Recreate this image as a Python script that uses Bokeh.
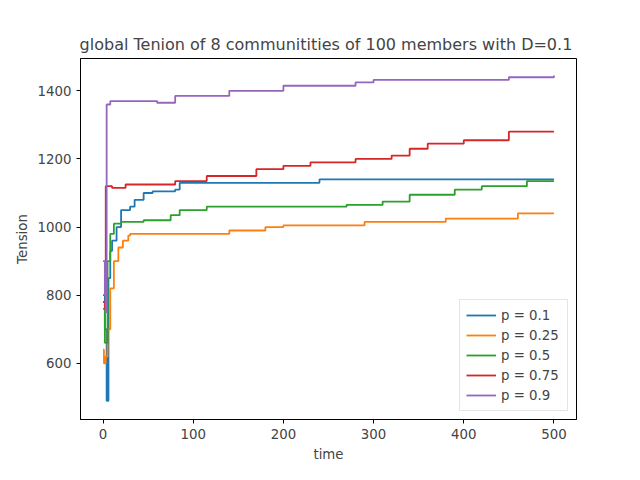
from bokeh.plotting import figure
from bokeh.models import Range1d
from bokeh.embed import file_html
from bokeh.resources import INLINE

# step breakpoints (time, tension)
labels = ["p = 0.1", "p = 0.25", "p = 0.5", "p = 0.75", "p = 0.9"]
colors = ["#1f77b4", "#ff7f0e", "#2ca02c", "#d62728", "#9467bd"]

t_01 = [0, 2, 4, 6, 8, 10, 15, 20, 30, 35, 45, 55, 80, 85, 240, 500]
v_01 = [800, 700, 490, 850, 930, 960, 1000, 1050, 1060, 1080, 1100, 1105, 1110, 1130, 1140, 1140]
t_025 = [0, 1, 3, 5, 8, 12, 17, 22, 28, 30, 140, 180, 200, 290, 380, 460, 500]
v_025 = [640, 600, 620, 700, 820, 900, 940, 960, 975, 980, 990, 1000, 1005, 1015, 1025, 1040, 1040]
t_05 = [0, 2, 5, 8, 12, 20, 45, 75, 85, 115, 270, 310, 340, 390, 420, 470, 500]
v_05 = [760, 660, 900, 980, 1010, 1015, 1020, 1035, 1050, 1060, 1065, 1075, 1095, 1110, 1120, 1135, 1135]
t_075 = [0, 2, 3, 10, 25, 80, 115, 170, 200, 230, 280, 320, 340, 360, 400, 450, 500]
v_075 = [780, 760, 1120, 1115, 1125, 1135, 1150, 1170, 1180, 1190, 1200, 1210, 1230, 1245, 1255, 1280, 1280]
t_09 = [0, 2, 3, 4, 8, 60, 80, 140, 200, 280, 300, 450, 500]
v_09 = [900, 800, 750, 1360, 1370, 1365, 1385, 1400, 1415, 1425, 1432, 1440, 1445]

series = [(t_01, v_01), (t_025, v_025), (t_05, v_05), (t_075, v_075), (t_09, v_09)]

p = figure(width=624, height=464, output_backend="svg", toolbar_location=None,
           title="global Tenion of 8 communitities of 100 members with  D=0.1",
           x_range=Range1d(-25, 525), y_range=Range1d(435, 1495),
           min_border_left=80, min_border_right=48, min_border_top=58, min_border_bottom=36)
p.title.align = "center"
p.title.text_font = "DejaVu Sans"
p.title.text_font_size = "12pt"
p.title.text_font_style = "normal"
p.grid.visible = False
p.outline_line_color = "black"
p.xaxis.axis_label = "time"
p.yaxis.axis_label = "Tension"
for ax in (p.xaxis, p.yaxis):
    ax.axis_label_text_font = "DejaVu Sans"
    ax.axis_label_text_font_style = "normal"
    ax.axis_label_text_font_size = "10pt"
    ax.major_label_text_font = "DejaVu Sans"
    ax.major_label_text_font_size = "10pt"
    ax.minor_tick_line_color = None
    ax.major_tick_in = 0
    ax.major_tick_out = 4
p.xaxis.ticker = [0, 100, 200, 300, 400, 500]
p.yaxis.ticker = [600, 800, 1000, 1200, 1400]

for (t, v), c, lab in zip(series, colors, labels):
    p.step(t, v, mode="after", line_color=c, line_width=1.8, legend_label=lab)

p.legend.location = "bottom_right"
p.legend.margin = 8
p.legend.label_text_font = "DejaVu Sans"
p.legend.label_text_font_size = "10pt"
p.legend.border_line_color = "#cccccc"
p.legend.spacing = 2
p.legend.padding = 6
p.legend.label_height = 18
p.legend.glyph_height = 18
p.legend.glyph_width = 30
p.legend.label_width = 60

open("out.html", "w").write(file_html(p, INLINE))
